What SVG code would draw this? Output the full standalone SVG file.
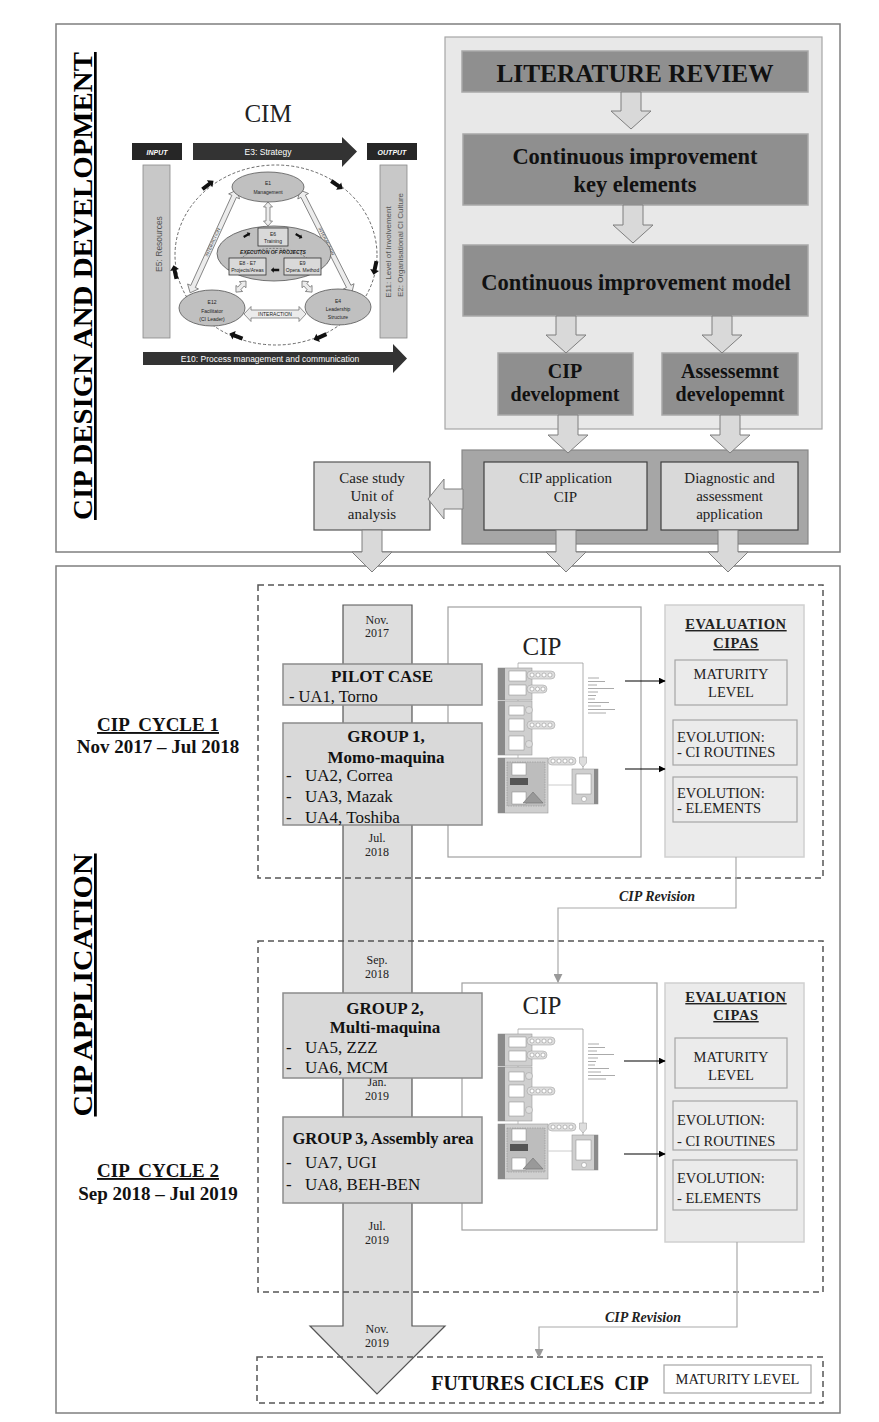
<svg xmlns="http://www.w3.org/2000/svg" width="879" height="1422" viewBox="0 0 879 1422">
<style>
.serif{font-family:"Liberation Serif","Times New Roman",serif;}
.sans{font-family:"Liberation Sans",Arial,sans-serif;}
.b{font-weight:bold;}
.c{text-anchor:middle;}
.hollow{fill:#d9d9d9;stroke:#7f7f7f;stroke-width:1;}
.dark{fill:#8f8f8f;stroke:#a8a8a8;stroke-width:1.5;}
.dash{fill:none;stroke:#555;stroke-width:1.5;stroke-dasharray:6 4;}
.grp{fill:#d9d9d9;stroke:#8c8c8c;stroke-width:1.5;}
.evp{fill:#ebebeb;stroke:#d0d0d0;stroke-width:1.5;}
.evb{fill:#ebebeb;stroke:#a6a6a6;stroke-width:1.2;}
.frame{fill:#fff;stroke:#a0a0a0;stroke-width:1.2;}
.date{font-size:12px;text-anchor:middle;fill:#222;}
.ev{font-size:14.5px;fill:#222;}
.cimh{fill:#ececec;stroke:#666;stroke-width:0.7;}
.cime{fill:#c0c0c0;stroke:#555;stroke-width:0.8;}
.tiny{font-size:5px;fill:#222;text-anchor:middle;}
.mg{fill:#cfcfcf;stroke:#999;stroke-width:0.6;}
.mb{fill:#8a8a8a;}
.mw{fill:#fff;stroke:#888;stroke-width:0.5;}
.mp{fill:#ddd;stroke:#999;stroke-width:0.5;}
.ml{stroke:#aaa;stroke-width:1;}
</style>
<defs>
<marker id="ah" viewBox="0 0 10 10" refX="9" refY="5" markerWidth="7" markerHeight="7" orient="auto" markerUnits="userSpaceOnUse"><path d="M0,0 L10,5 L0,10 Z" fill="#000"/></marker>
<marker id="ahg" viewBox="0 0 10 10" refX="9" refY="5" markerWidth="9" markerHeight="9" orient="auto" markerUnits="userSpaceOnUse"><path d="M0,0 L10,5 L0,10 Z" fill="#999"/></marker>
<path id="blk" d="M-7,-2 L2,-2 L2,-4.5 L7,0 L2,4.5 L2,2 L-7,2 Z" fill="#111"/>
<g id="mini">
 <polyline points="21,1 86,1 86,108" fill="none" stroke="#999" stroke-width="0.8"/>
 <line x1="21" y1="1" x2="21" y2="100" stroke="#999" stroke-width="0.6"/>
 <rect class="mg" x="1" y="6" width="34" height="32"/><rect class="mb" x="1" y="6" width="7" height="32"/>
 <rect class="mw" x="12" y="9" width="17" height="10"/><rect class="mw" x="12" y="23" width="17" height="10"/>
 <rect class="mp" x="30" y="9" width="28" height="8" rx="4"/>
 <circle class="mw" cx="35" cy="13" r="2"/><circle class="mw" cx="41" cy="13" r="2"/><circle class="mw" cx="47" cy="13" r="2"/><circle class="mw" cx="53" cy="13" r="2"/>
 <rect class="mp" x="30" y="23" width="20" height="8" rx="4"/>
 <circle class="mw" cx="35" cy="27" r="2"/><circle class="mw" cx="40.5" cy="27" r="2"/><circle class="mw" cx="46" cy="27" r="2"/>
 <rect class="mg" x="1" y="39" width="34" height="54"/><rect class="mb" x="1" y="39" width="7" height="54"/>
 <rect class="mw" x="12" y="44" width="15" height="9"/><rect class="mw" x="12" y="57" width="15" height="12"/><rect class="mw" x="12" y="74" width="15" height="14"/>
 <circle class="mp" cx="32" cy="48" r="3.5"/><circle class="mp" cx="32" cy="82" r="3.5"/>
 <rect class="mp" x="30" y="59" width="28" height="8" rx="4"/>
 <circle class="mw" cx="35" cy="63" r="2"/><circle class="mw" cx="41" cy="63" r="2"/><circle class="mw" cx="47" cy="63" r="2"/><circle class="mw" cx="53" cy="63" r="2"/>
 <rect class="mg" x="1" y="96" width="50" height="55"/><rect class="mb" x="1" y="96" width="7" height="55"/>
 <rect x="10" y="100" width="38" height="44" fill="#bdbdbd" stroke="#888" stroke-width="0.5" stroke-dasharray="1.5 1"/>
 <rect class="mw" x="15" y="101" width="14" height="12"/><rect x="13" y="116" width="18" height="7" fill="#555"/><rect class="mw" x="15" y="130" width="14" height="12"/>
 <polygon points="36,130 46,141 26,141" fill="#999" stroke="#666" stroke-width="0.5"/>
 <rect class="mp" x="51" y="95" width="28" height="8" rx="4"/>
 <circle class="mw" cx="56" cy="99" r="2"/><circle class="mw" cx="62" cy="99" r="2"/><circle class="mw" cx="68" cy="99" r="2"/><circle class="mw" cx="74" cy="99" r="2"/>
 <line x1="51" y1="123" x2="75" y2="123" stroke="#ccc" stroke-width="1"/>
 <rect class="mg" x="75" y="107" width="26" height="35"/><rect class="mb" x="97" y="107" width="4" height="35"/>
 <rect class="mw" x="79" y="112" width="15" height="20"/><circle class="mw" cx="87" cy="137" r="2.5"/>
 <path d="M82.5,95 h7 v6 l-3.5,4 l-3.5,-4 z" class="mp"/>
 <line class="ml" x1="91" y1="16" x2="102" y2="16"/><line class="ml" x1="91" y1="19.5" x2="108" y2="19.5"/>
 <line class="ml" x1="91" y1="23" x2="100" y2="23"/><line class="ml" x1="91" y1="26.5" x2="117" y2="26.5"/>
 <line class="ml" x1="91" y1="30" x2="101" y2="30"/><line class="ml" x1="91" y1="33.5" x2="99" y2="33.5"/>
 <line class="ml" x1="91" y1="37" x2="98" y2="37"/><line class="ml" x1="91" y1="40.5" x2="112" y2="40.5"/>
 <line class="ml" x1="91" y1="44" x2="104" y2="44"/><line class="ml" x1="91" y1="47.5" x2="118" y2="47.5"/>
 <line class="ml" x1="91" y1="51" x2="109" y2="51"/>
</g>
</defs>

<rect width="879" height="1422" fill="#fff"/>

<!-- outer panels -->
<g id="design-panel">
 <rect x="56" y="24" width="784" height="528" fill="#fff" stroke="#7f7f7f" stroke-width="1.5"/>
 <text class="serif b" font-size="27" text-decoration="underline" text-anchor="middle" textLength="468" lengthAdjust="spacingAndGlyphs" transform="translate(92,286) rotate(-90)">CIP DESIGN AND DEVELOPMENT</text>
</g>
<g id="application-panel">
 <rect x="56" y="566" width="784" height="847" fill="#fff" stroke="#7f7f7f" stroke-width="1.5"/>
 <text class="serif b" font-size="28" text-decoration="underline" text-anchor="middle" textLength="263" lengthAdjust="spacingAndGlyphs" transform="translate(92,985) rotate(-90)">CIP APPLICATION</text>
</g>

<!-- CIM model -->
<g id="cim" class="sans">
 <text class="serif c" x="268" y="122" font-size="25" fill="#222">CIM</text>
 <ellipse cx="276" cy="255" rx="101" ry="90" fill="none" stroke="#444" stroke-width="0.8" stroke-dasharray="3 2"/>
 <rect x="132" y="143" width="50" height="17" fill="#262626"/>
 <text x="157" y="154.5" font-size="7" font-style="italic" font-weight="bold" fill="#fff" text-anchor="middle">INPUT</text>
 <polygon points="193,143 342,143 342,137 357,151.5 342,167 342,160 193,160" fill="#333"/>
 <text x="268" y="155" font-size="8.5" fill="#fff" text-anchor="middle">E3: Strategy</text>
 <rect x="367" y="143" width="50" height="17" fill="#262626"/>
 <text x="392" y="154.5" font-size="7" font-style="italic" font-weight="bold" fill="#fff" text-anchor="middle">OUTPUT</text>
 <rect x="143" y="165" width="27" height="173" fill="#c8c8c8" stroke="#888" stroke-width="0.8"/>
 <text font-size="8.5" fill="#555" text-anchor="middle" transform="translate(162,244) rotate(-90)">E5: Resources</text>
 <rect x="380" y="165" width="27" height="173" fill="#c8c8c8" stroke="#888" stroke-width="0.8"/>
 <text font-size="8" fill="#555" text-anchor="middle" transform="translate(391,252) rotate(-90)">E11: Level of Involvement</text>
 <text font-size="8" fill="#555" text-anchor="middle" transform="translate(403,245) rotate(-90)">E2: Organisational CI Culture</text>
 <use href="#blk" transform="translate(208,185) rotate(-37.6)"/>
 <use href="#blk" transform="translate(337,185) rotate(34.7)"/>
 <use href="#blk" transform="translate(375,268) rotate(102)"/>
 <use href="#blk" transform="translate(320,337) rotate(156)"/>
 <use href="#blk" transform="translate(236,336) rotate(201)"/>
 <use href="#blk" transform="translate(175,272) rotate(-102)"/>
 <polygon class="cimh" points="0,0 7,-6 7,-2.5 106,-2.5 106,-6 113,0 106,6 106,2.5 7,2.5 7,6" transform="translate(237,190) rotate(114.5)"/>
 <polygon class="cimh" points="0,0 7,-6 7,-2.5 108,-2.5 108,-6 115,0 108,6 108,2.5 7,2.5 7,6" transform="translate(300,190) rotate(63.2)"/>
 <text font-size="4.5" fill="#444" text-anchor="middle" transform="translate(214,243) rotate(-65.5)">INTERACTION</text>
 <text font-size="4.5" fill="#444" text-anchor="middle" transform="translate(325,242) rotate(63.2)">INTERACTION</text>
 <polygon class="cimh" points="0,0 5,-4.5 5,-2 19,-2 19,-4.5 24,0 19,4.5 19,2 5,2 5,4.5" transform="translate(268,202) rotate(90)"/>
 <ellipse class="cime" cx="268" cy="187" rx="36" ry="15"/>
 <text class="tiny" x="268" y="185" font-size="6">E1</text>
 <text class="tiny" x="268" y="194" font-size="6">Management</text>
 <ellipse class="cime" cx="274" cy="253.5" rx="57" ry="27.5"/>
 <path d="M238,262 A38,20 0 0 1 310,262" fill="none" stroke="#444" stroke-width="0.6" stroke-dasharray="2 1.5"/>
 <use href="#blk" transform="translate(247,235) rotate(-30) scale(0.55)"/>
 <use href="#blk" transform="translate(299,236) rotate(30) scale(0.55)"/>
 <rect x="258" y="228" width="30" height="18" fill="#d9d9d9" stroke="#333" stroke-width="0.8"/>
 <text class="tiny" x="273" y="236">E6</text>
 <text class="tiny" x="273" y="243">Training</text>
 <text class="tiny" x="273" y="254" font-style="italic" font-weight="bold" font-size="5">EXECUTION OF PROJECTS</text>
 <rect x="229" y="258" width="37" height="17" fill="#d9d9d9" stroke="#333" stroke-width="0.8"/>
 <text class="tiny" x="247.5" y="265">E8 - E7</text>
 <text class="tiny" x="247.5" y="272">Projects/Areas</text>
 <rect x="284" y="258" width="37" height="17" fill="#d9d9d9" stroke="#333" stroke-width="0.8"/>
 <text class="tiny" x="302.5" y="265">E9</text>
 <text class="tiny" x="302.5" y="272">Opera. Method</text>
 <use href="#blk" transform="translate(275,270) rotate(180) scale(0.6)"/>
 <polygon class="cimh" points="0,0 5,-4.5 5,-2 10,-2 10,-4.5 15,0 10,4.5 10,2 5,2 5,4.5" transform="translate(246,281) rotate(132)"/>
 <polygon class="cimh" points="0,0 5,-4.5 5,-2 10,-2 10,-4.5 15,0 10,4.5 10,2 5,2 5,4.5" transform="translate(302,281) rotate(48)"/>
 <ellipse class="cime" cx="212" cy="308" rx="33" ry="18"/>
 <text class="tiny" x="212" y="304" font-size="8">E12</text>
 <text class="tiny" x="212" y="313" font-size="6">Facilitator</text>
 <text class="tiny" x="212" y="321" font-size="6">(CI Leader)</text>
 <ellipse class="cime" cx="338" cy="307" rx="33" ry="18"/>
 <text class="tiny" x="338" y="303" font-size="8">E4</text>
 <text class="tiny" x="338" y="311" font-size="6">Leadership</text>
 <text class="tiny" x="338" y="319" font-size="6">Structure</text>
 <polygon class="cimh" points="0,0 7,-7.5 7,-4 55,-4 55,-7.5 62,0 55,7.5 55,4 7,4 7,7.5" transform="translate(244,314)"/>
 <text class="tiny" x="275" y="316" font-size="5">INTERACTION</text>
 <polygon points="143,352 393,352 393,344 407,358.5 393,373 393,365 143,365" fill="#333"/>
 <text x="270" y="361.5" font-size="8.5" fill="#fff" text-anchor="middle">E10: Process management and communication</text>
</g>

<!-- design flow -->
<g id="design-flow-panel"><rect x="445" y="37" width="377" height="392" fill="#e8e8e8" stroke="#a6a6a6" stroke-width="1.2"/></g>
<g id="literature-review">
 <rect class="dark" x="462" y="51" width="346" height="41"/>
 <text class="serif b c" x="635" y="82" font-size="26" textLength="277" lengthAdjust="spacingAndGlyphs" fill="#111">LITERATURE REVIEW</text>
</g>
<g id="key-elements">
 <rect class="dark" x="463" y="134" width="345" height="71"/>
 <text class="serif b c" x="635" y="164" font-size="22.5" fill="#111">Continuous improvement</text>
 <text class="serif b c" x="635" y="192" font-size="22.5" fill="#111">key elements</text>
</g>
<g id="ci-model">
 <rect class="dark" x="463" y="245" width="345" height="71"/>
 <text class="serif b c" x="636" y="290" font-size="22.5" fill="#111">Continuous improvement model</text>
</g>
<g id="cip-development">
 <rect class="dark" x="498" y="353" width="135" height="62"/>
 <text class="serif b c" x="565" y="378" font-size="20" fill="#111">CIP</text>
 <text class="serif b c" x="565" y="401" font-size="20" fill="#111">development</text>
</g>
<g id="assessment-development">
 <rect class="dark" x="662" y="353" width="136" height="62"/>
 <text class="serif b c" x="730" y="378" font-size="20" fill="#111">Assessemnt</text>
 <text class="serif b c" x="730" y="401" font-size="20" fill="#111">developemnt</text>
</g>
<g id="application-panel-top">
 <rect x="462" y="450" width="346" height="94" fill="#a6a6a6" stroke="#888" stroke-width="1.2"/>
</g>
<g id="cip-application">
 <rect x="484" y="462" width="163" height="68" fill="#d9d9d9" stroke="#404040" stroke-width="1.2"/>
 <text class="serif c" x="565.5" y="483" font-size="15" fill="#222">CIP application</text>
 <text class="serif c" x="565.5" y="502" font-size="15" fill="#222">CIP</text>
</g>
<g id="diagnostic">
 <rect x="661" y="462" width="137" height="68" fill="#d9d9d9" stroke="#404040" stroke-width="1.2"/>
 <text class="serif c" x="729.5" y="483" font-size="15" fill="#222">Diagnostic and</text>
 <text class="serif c" x="729.5" y="501" font-size="15" fill="#222">assessment</text>
 <text class="serif c" x="729.5" y="519" font-size="15" fill="#222">application</text>
</g>
<g id="case-study">
 <rect x="314" y="462" width="116" height="68" fill="#d9d9d9" stroke="#555" stroke-width="1.2"/>
 <text class="serif c" x="372" y="483" font-size="15" fill="#222">Case study</text>
 <text class="serif c" x="372" y="501" font-size="15" fill="#222">Unit of</text>
 <text class="serif c" x="372" y="519" font-size="15" fill="#222">analysis</text>
</g>

<!-- bottom section -->
<g id="timeline">
 <polygon points="343,605 412,605 412,1326 445,1326 377,1394 310,1326 343,1326" fill="#dedede" stroke="#555" stroke-width="1.2"/>
 <text class="serif date" x="377" y="624">Nov.</text><text class="serif date" x="377" y="637">2017</text>
 <text class="serif date" x="377" y="842">Jul.</text><text class="serif date" x="377" y="856">2018</text>
 <text class="serif date" x="377" y="964">Sep.</text><text class="serif date" x="377" y="978">2018</text>
 <text class="serif date" x="377" y="1086">Jan.</text><text class="serif date" x="377" y="1100">2019</text>
 <text class="serif date" x="377" y="1230">Jul.</text><text class="serif date" x="377" y="1244">2019</text>
 <text class="serif date" x="377" y="1333">Nov.</text><text class="serif date" x="377" y="1347">2019</text>
</g>

<g id="cycle1">
 <rect class="dash" x="258" y="585" width="565" height="293"/>
 <text class="serif b c" x="158" y="731" font-size="19" text-decoration="underline" xml:space="preserve" fill="#111">CIP  CYCLE 1</text>
 <text class="serif b c" x="158" y="753" font-size="19" fill="#111">Nov 2017 – Jul 2018</text>
</g>
<g id="cycle2">
 <rect class="dash" x="258" y="941" width="565" height="351"/>
 <text class="serif b c" x="158" y="1177" font-size="19" text-decoration="underline" xml:space="preserve" fill="#111">CIP  CYCLE 2</text>
 <text class="serif b c" x="158" y="1200" font-size="19" fill="#111">Sep 2018 – Jul 2019</text>
</g>

<g id="cip-frame-1">
 <rect class="frame" x="448" y="607" width="193" height="250"/>
 <text class="serif c" x="542" y="655" font-size="25" fill="#222">CIP</text>
 <use href="#mini" transform="translate(497,662)"/>
</g>
<g id="cip-frame-2">
 <rect class="frame" x="462" y="983" width="195" height="247"/>
 <text class="serif c" x="542" y="1014" font-size="25" fill="#222">CIP</text>
 <use href="#mini" transform="translate(497,1028)"/>
</g>

<g id="pilot-case">
 <rect class="grp" x="283" y="664" width="199" height="41"/>
 <text class="serif b c" x="382" y="682" font-size="17" fill="#111">PILOT CASE</text>
 <text class="serif" x="289" y="702" font-size="16.5" fill="#111">- UA1, Torno</text>
</g>
<g id="group1">
 <rect class="grp" x="283" y="723" width="199" height="102"/>
 <text class="serif b c" x="386" y="742" font-size="17" fill="#111">GROUP 1,</text>
 <text class="serif b c" x="386" y="763" font-size="17" fill="#111">Momo-maquina</text>
 <text class="serif" x="286" y="781" font-size="17" fill="#111">-</text><text class="serif" x="305" y="781" font-size="17" fill="#111">UA2, Correa</text>
 <text class="serif" x="286" y="802" font-size="17" fill="#111">-</text><text class="serif" x="305" y="802" font-size="17" fill="#111">UA3, Mazak</text>
 <text class="serif" x="286" y="823" font-size="17" fill="#111">-</text><text class="serif" x="305" y="823" font-size="17" fill="#111">UA4, Toshiba</text>
</g>
<g id="group2">
 <rect class="grp" x="283" y="993" width="199" height="85"/>
 <text class="serif b c" x="385" y="1014" font-size="17" fill="#111">GROUP 2,</text>
 <text class="serif b c" x="385" y="1033" font-size="17" fill="#111">Multi-maquina</text>
 <text class="serif" x="286" y="1053" font-size="17" fill="#111">-</text><text class="serif" x="305" y="1053" font-size="17" fill="#111">UA5, ZZZ</text>
 <text class="serif" x="286" y="1073" font-size="17" fill="#111">-</text><text class="serif" x="305" y="1073" font-size="17" fill="#111">UA6, MCM</text>
</g>
<g id="group3">
 <rect class="grp" x="283" y="1117" width="199" height="86"/>
 <text class="serif b c" x="383" y="1144" font-size="16.5" fill="#111">GROUP 3, Assembly area</text>
 <text class="serif" x="286" y="1168" font-size="17" fill="#111">-</text><text class="serif" x="305" y="1168" font-size="17" fill="#111">UA7, UGI</text>
 <text class="serif" x="286" y="1190" font-size="17" fill="#111">-</text><text class="serif" x="305" y="1190" font-size="17" fill="#111">UA8, BEH-BEN</text>
</g>

<g id="evaluation-1" class="serif">
 <rect class="evp" x="665" y="605" width="139" height="252"/>
 <text class="b c" x="736" y="629" font-size="14.5" letter-spacing="0.6" text-decoration="underline" fill="#222">EVALUATION</text>
 <text class="b c" x="736" y="648" font-size="14.5" letter-spacing="0.6" text-decoration="underline" fill="#222">CIPAS</text>
 <rect class="evb" x="675" y="660" width="112" height="45"/>
 <text class="ev c" x="731" y="679">MATURITY</text><text class="ev c" x="731" y="697">LEVEL</text>
 <rect class="evb" x="673" y="720" width="124" height="45"/>
 <text class="ev" x="677" y="742">EVOLUTION:</text><text class="ev" x="677" y="757">- CI ROUTINES</text>
 <rect class="evb" x="673" y="777" width="124" height="45"/>
 <text class="ev" x="677" y="798">EVOLUTION:</text><text class="ev" x="677" y="813">- ELEMENTS</text>
</g>
<g id="evaluation-2" class="serif">
 <rect class="evp" x="665" y="983" width="139" height="259"/>
 <text class="b c" x="736" y="1002" font-size="14.5" letter-spacing="0.6" text-decoration="underline" fill="#222">EVALUATION</text>
 <text class="b c" x="736" y="1020" font-size="14.5" letter-spacing="0.6" text-decoration="underline" fill="#222">CIPAS</text>
 <rect class="evb" x="675" y="1038" width="112" height="50"/>
 <text class="ev c" x="731" y="1062">MATURITY</text><text class="ev c" x="731" y="1080">LEVEL</text>
 <rect class="evb" x="673" y="1101" width="124" height="49"/>
 <text class="ev" x="677" y="1125">EVOLUTION:</text><text class="ev" x="677" y="1146">- CI ROUTINES</text>
 <rect class="evb" x="673" y="1160" width="124" height="50"/>
 <text class="ev" x="677" y="1183">EVOLUTION:</text><text class="ev" x="677" y="1203">- ELEMENTS</text>
</g>

<g id="futures">
 <rect class="dash" x="257" y="1357" width="566" height="46"/>
 <text class="serif b c" x="540" y="1390" font-size="20" fill="#111" xml:space="preserve">FUTURES CICLES  CIP</text>
 <rect x="664" y="1365" width="147" height="28" fill="#fff" stroke="#a6a6a6" stroke-width="1.2"/>
 <text class="serif c" x="737.5" y="1384" font-size="14.5" fill="#222">MATURITY LEVEL</text>
</g>

<!-- connectors -->
<g id="connectors">
 <polygon class="hollow" points="621,92 641,92 641,111 651,111 631,129 611,111 621,111"/>
 <polygon class="hollow" points="623,205 643,205 643,225 653,225 633,243 613,225 623,225"/>
 <polygon class="hollow" points="556,316 576,316 576,335 586,335 566,353 546,335 556,335"/>
 <polygon class="hollow" points="712,316 732,316 732,335 742,335 722,353 702,335 712,335"/>
 <polygon class="hollow" points="558,415 578,415 578,435 588,435 568,453 548,435 558,435"/>
 <polygon class="hollow" points="720,415 740,415 740,435 750,435 730,453 710,435 720,435"/>
 <polygon class="hollow" points="463,489 444,489 444,479 428,499 444,519 444,509 463,509"/>
 <polygon class="hollow" points="362,530 382,530 382,552 392,552 372,572 352,552 362,552"/>
 <polygon class="hollow" points="556,530 576,530 576,552 586,552 566,572 546,552 556,552"/>
 <polygon class="hollow" points="718,530 738,530 738,552 748,552 728,572 708,552 718,552"/>
 <line x1="625" y1="681" x2="665" y2="681" stroke="#000" stroke-width="1.2" marker-end="url(#ah)"/>
 <line x1="625" y1="769" x2="665" y2="769" stroke="#000" stroke-width="1.2" marker-end="url(#ah)"/>
 <line x1="624" y1="1061" x2="665" y2="1061" stroke="#000" stroke-width="1.2" marker-end="url(#ah)"/>
 <line x1="624" y1="1154" x2="665" y2="1154" stroke="#000" stroke-width="1.2" marker-end="url(#ah)"/>
 <polyline points="736,857 736,908 558,908 558,982" fill="none" stroke="#aaa" stroke-width="1.2" marker-end="url(#ahg)"/>
 <text class="serif b c" x="657" y="901" font-size="14" font-style="italic" fill="#222">CIP Revision</text>
 <polyline points="737,1242 737,1327 539,1327 539,1357" fill="none" stroke="#aaa" stroke-width="1.2" marker-end="url(#ahg)"/>
 <text class="serif b c" x="643" y="1322" font-size="14" font-style="italic" fill="#222">CIP Revision</text>
</g>
</svg>
